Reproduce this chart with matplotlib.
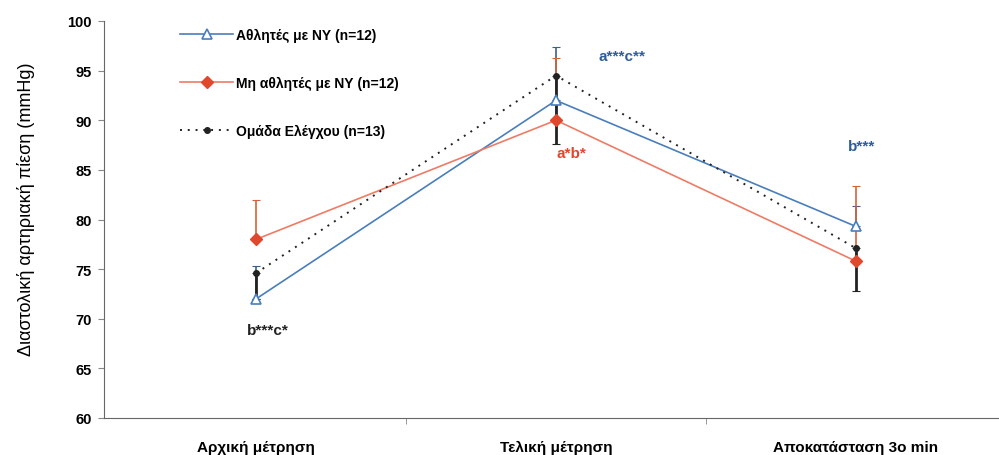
import numpy as np
import matplotlib
matplotlib.use("Agg")
import matplotlib.pyplot as plt

plt.rcParams['font.family'] = ['Liberation Sans', 'DejaVu Sans']

categories = ["Αρχική μέτρηση", "Τελική μέτρηση", "Αποκατάσταση 3ο min"]

athletes = [72.0, 92.0, 79.3]
athletes_up = [3.3, 5.4, 2.1]
non_athletes = [78.0, 90.0, 75.8]
non_athletes_up = [4.0, 6.3, 7.6]
control = [74.6, 94.5, 77.1]
control_down = [2.6, 6.9, 4.3]

labels = ["Αθλητές με ΝΥ (n=12)", "Μη αθλητές με ΝΥ (n=12)",
          "Ομάδα Ελέγχου (n=13)"]

blue = "#4A7EBB"
red_line = "#EE7B66"
red = "#E0482E"
dark = "#222222"

x = np.arange(len(categories))

fig = plt.figure(figsize=(9.99, 4.56), dpi=100)
ax = fig.add_axes([104 / 999, 37 / 456, 895 / 999, 397 / 456])

# error bars (one sided, like the original)
ax.errorbar(x, athletes, yerr=[np.zeros(3), athletes_up], fmt="none",
            ecolor="#3B5F8F", elinewidth=1.2, capsize=3, capthick=0.8, zorder=3)
ax.errorbar(x, non_athletes, yerr=[np.zeros(3), non_athletes_up], fmt="none",
            ecolor="#D9603B", elinewidth=1.2, capsize=3, capthick=0.8, zorder=3)
ax.errorbar(x, control, yerr=[control_down, np.zeros(3)], fmt="none",
            ecolor=dark, elinewidth=2.0, capsize=3, capthick=0.8, zorder=4)

ax.plot(x, athletes, color=blue, lw=1.2, marker="^", markersize=7,
        markerfacecolor="white", markeredgecolor=blue, markeredgewidth=1.2,
        label=labels[0], zorder=5)
ax.plot(x, non_athletes, color=red_line, lw=1.2, marker="D", markersize=6,
        markerfacecolor=red, markeredgecolor=red, label=labels[1], zorder=5)
ax.plot(x, control, color=dark, lw=1.4, linestyle=(0, (1, 3.0)), marker="o",
        markersize=4, markerfacecolor=dark, markeredgecolor=dark,
        label=labels[2], zorder=6)

# significance marks
ax.text(0.04, 68.9, "b***c*", color="#222222", fontsize=11, fontweight="bold",
        ha="center", va="center")
ax.text(1.22, 96.5, "a***c**", color="#2F5D9A", fontsize=11, fontweight="bold",
        ha="center", va="center")
ax.text(1.05, 86.7, "a*b*", color=red, fontsize=11, fontweight="bold",
        ha="center", va="center")
ax.text(2.02, 87.4, "b***", color="#2F5D9A", fontsize=11, fontweight="bold",
        ha="center", va="center")

ax.set_xlim(-0.507, 2.477)
ax.set_ylim(60, 100)
ax.set_yticks(np.arange(60, 101, 5))
ax.set_xticks(x)
ax.set_xticklabels(categories, fontsize=11, fontweight="bold")
ax.set_xticks([0.5, 1.5], minor=True)
ax.tick_params(axis="x", which="major", length=0, pad=16)
ax.tick_params(axis="x", which="minor", length=4, color="#888888")
ax.tick_params(axis="y", length=4, color="#888888", labelsize=10.5, pad=5)
for lab in ax.get_yticklabels():
    lab.set_fontweight("bold")

for s in ["top", "right"]:
    ax.spines[s].set_visible(False)
ax.spines["left"].set_color("#666666")
ax.spines["bottom"].set_color("#666666")
ax.set_ylabel("Διαστολική αρτηριακή πίεση (mmHg)", fontsize=13)
ax.yaxis.set_label_coords(-0.077, 0.529)

ax.legend(loc="upper left", bbox_to_anchor=(0.079, 0.997), frameon=False,
          numpoints=1, handlelength=3.8, handletextpad=0.2, labelspacing=2.45,
          borderaxespad=0, prop={"weight": "bold", "size": 10})

fig.savefig("out.png", dpi=100)
